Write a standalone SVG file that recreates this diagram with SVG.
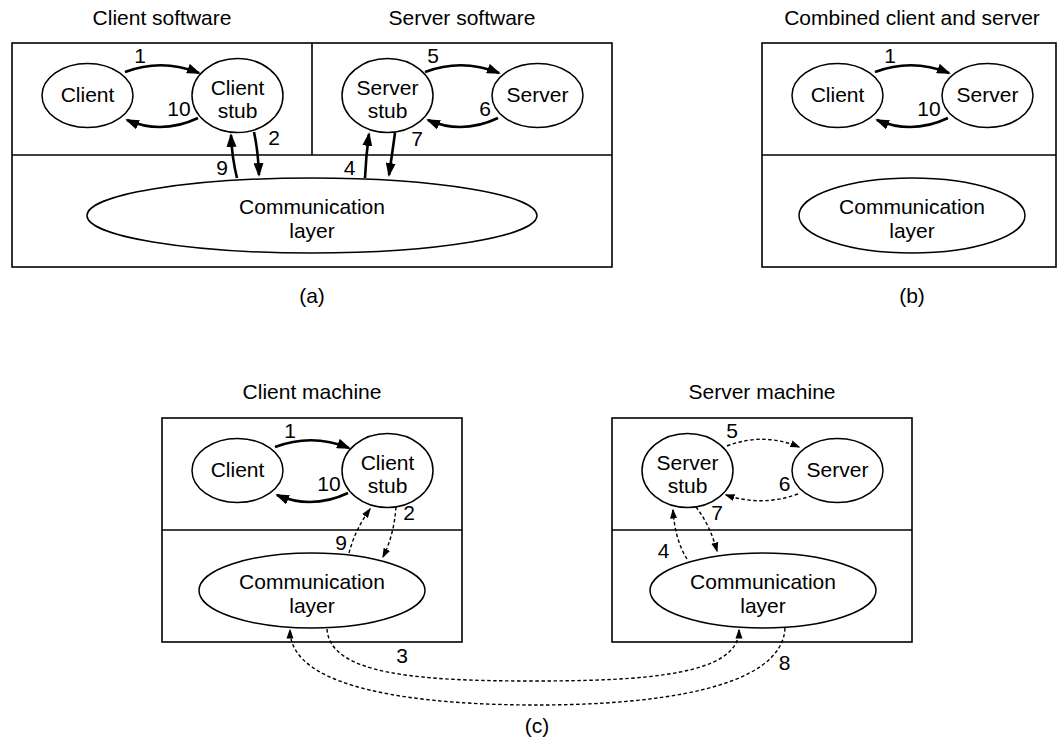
<svg xmlns="http://www.w3.org/2000/svg" width="1057" height="744" viewBox="0 0 1057 744">
  <defs>
    <marker id="head" markerUnits="userSpaceOnUse" markerWidth="14" markerHeight="10" refX="12" refY="5" orient="auto">
      <path d="M0,0 L14,5 L0,10 z" fill="#000"/>
    </marker>
    <marker id="head-small" markerUnits="userSpaceOnUse" markerWidth="10" markerHeight="8" refX="8.5" refY="4" orient="auto">
      <path d="M0,0.5 L10,4 L0,7.5 z" fill="#000"/>
    </marker>
  </defs>
  <style>
    text { font-family: "Liberation Sans", Arial, sans-serif; font-size: 21px; fill: #000; text-anchor: middle; }
    .box { fill: #fff; stroke: #000; stroke-width: 1.6; }
    .rule { stroke: #000; stroke-width: 1.6; fill: none; }
    .node { fill: #fff; stroke: #000; stroke-width: 1.5; }
    .call { fill: none; stroke: #000; stroke-width: 2.6; marker-end: url(#head); }
    .msg { fill: none; stroke: #000; stroke-width: 1.4; stroke-dasharray: 3.5 2.5; marker-end: url(#head-small); }
  </style>
  <rect width="1057" height="744" fill="#fff"/>

  <!-- (a) separate client and server software -->
  <g id="panel-a">
    <rect class="box" x="12" y="43" width="600" height="224"/>
    <line class="rule" x1="12" y1="155" x2="612" y2="155"/>
    <line class="rule" x1="312" y1="43" x2="312" y2="155"/>
    <text x="162" y="25">Client software</text>
    <text x="462" y="25">Server software</text>
    <text x="312" y="303">(a)</text>
  </g>
  <g id="a-client">
    <ellipse class="node" cx="87.5" cy="95.5" rx="45.5" ry="32"/>
    <text x="87.5" y="101.5">Client</text>
  </g>
  <g id="a-client-stub">
    <ellipse class="node" cx="237.5" cy="95.5" rx="45.5" ry="37"/>
    <text x="237.5" y="94.5">Client</text>
    <text x="237.5" y="117.5">stub</text>
  </g>
  <g id="a-server-stub">
    <ellipse class="node" cx="387.5" cy="95.5" rx="45.5" ry="37"/>
    <text x="387.5" y="94.5">Server</text>
    <text x="387.5" y="117.5">stub</text>
  </g>
  <g id="a-server">
    <ellipse class="node" cx="537.5" cy="95.5" rx="45.5" ry="32"/>
    <text x="537.5" y="101.5">Server</text>
  </g>
  <g id="a-comm">
    <ellipse class="node" cx="312" cy="215.5" rx="225" ry="37.5"/>
    <text x="312" y="214">Communication</text>
    <text x="312" y="238">layer</text>
  </g>

  <!-- (b) client and server combined -->
  <g id="panel-b">
    <rect class="box" x="762" y="43" width="294" height="224"/>
    <line class="rule" x1="762" y1="155" x2="1056" y2="155"/>
    <text x="912" y="25">Combined client and server</text>
    <text x="912" y="303">(b)</text>
  </g>
  <g id="b-client">
    <ellipse class="node" cx="837.5" cy="95.5" rx="45.5" ry="32"/>
    <text x="837.5" y="101.5">Client</text>
  </g>
  <g id="b-server">
    <ellipse class="node" cx="987.5" cy="95.5" rx="45.5" ry="32"/>
    <text x="987.5" y="101.5">Server</text>
  </g>
  <g id="b-comm">
    <ellipse class="node" cx="912" cy="215.5" rx="113" ry="37.5"/>
    <text x="912" y="214">Communication</text>
    <text x="912" y="238">layer</text>
  </g>

  <!-- (c) client and server on separate machines -->
  <g id="panel-c">
    <rect class="box" x="162" y="418" width="300" height="224"/>
    <line class="rule" x1="162" y1="530" x2="462" y2="530"/>
    <rect class="box" x="612" y="418" width="300" height="224"/>
    <line class="rule" x1="612" y1="530" x2="912" y2="530"/>
    <text x="312" y="399">Client machine</text>
    <text x="762" y="399">Server machine</text>
    <text x="537" y="733">(c)</text>
  </g>
  <g id="c-client">
    <ellipse class="node" cx="237.5" cy="470.5" rx="45.5" ry="32"/>
    <text x="237.5" y="476.5">Client</text>
  </g>
  <g id="c-client-stub">
    <ellipse class="node" cx="387.5" cy="470.5" rx="45.5" ry="37"/>
    <text x="387.5" y="469.5">Client</text>
    <text x="387.5" y="492.5">stub</text>
  </g>
  <g id="c-client-comm">
    <ellipse class="node" cx="312" cy="590.5" rx="113" ry="37.5"/>
    <text x="312" y="589">Communication</text>
    <text x="312" y="613">layer</text>
  </g>
  <g id="c-server-stub">
    <ellipse class="node" cx="687.5" cy="470.5" rx="45.5" ry="37"/>
    <text x="687.5" y="469.5">Server</text>
    <text x="687.5" y="492.5">stub</text>
  </g>
  <g id="c-server">
    <ellipse class="node" cx="837.5" cy="470.5" rx="45.5" ry="32"/>
    <text x="837.5" y="476.5">Server</text>
  </g>
  <g id="c-server-comm">
    <ellipse class="node" cx="763" cy="590.5" rx="113" ry="37.5"/>
    <text x="763" y="589">Communication</text>
    <text x="763" y="613">layer</text>
  </g>

  <g id="connectors">
    <!-- (a) -->
    <path class="call" d="M125,72 Q162,58 199,73"/>
    <path class="call" d="M198,118 Q162,135 127,120"/>
    <path class="call" d="M254,132 Q258,150 259,175"/>
    <path class="call" d="M237,178 Q232,158 231,135"/>
    <path class="call" d="M425,72 Q462,58 499,73"/>
    <path class="call" d="M498,118 Q462,135 428,120"/>
    <path class="call" d="M395,133 Q392,155 389,175"/>
    <path class="call" d="M365,178 Q366,155 369,134"/>
    <!-- (b) -->
    <path class="call" d="M875,72 Q912,58 949,73"/>
    <path class="call" d="M948,118 Q912,135 877,120"/>
    <!-- (c) local calls -->
    <path class="call" d="M275,447 Q312,433 349,448"/>
    <path class="call" d="M348,493 Q312,510 277,495"/>
    <!-- (c) messages -->
    <path class="msg" d="M349,553 Q355,530 370,509"/>
    <path class="msg" d="M396,507 Q394,535 383,557"/>
    <path class="msg" d="M727,446 Q763,432 799,447"/>
    <path class="msg" d="M798,494 Q762,507 726,495"/>
    <path class="msg" d="M696,507 Q710,525 717,551"/>
    <path class="msg" d="M687,559 Q675,540 673,510"/>
    <path class="msg" d="M327,629 C330,675 420,681 533,681 C646,681 739,675 739,630"/>
    <path class="msg" d="M785,628 C782,690 650,705 537,705 C420,705 290,690 290,630"/>
  </g>

  <g id="labels">
    <text x="140" y="63">1</text>
    <text x="179" y="116">10</text>
    <text x="274" y="145">2</text>
    <text x="222" y="175">9</text>
    <text x="433" y="63">5</text>
    <text x="485" y="116">6</text>
    <text x="417" y="146">7</text>
    <text x="349.5" y="175">4</text>
    <text x="890" y="63">1</text>
    <text x="929" y="116">10</text>
    <text x="290" y="438">1</text>
    <text x="329" y="491">10</text>
    <text x="341" y="550">9</text>
    <text x="409" y="520">2</text>
    <text x="732" y="438">5</text>
    <text x="784.5" y="491">6</text>
    <text x="717" y="520">7</text>
    <text x="663.5" y="558">4</text>
    <text x="402" y="663">3</text>
    <text x="784.5" y="670">8</text>
  </g>
</svg>
